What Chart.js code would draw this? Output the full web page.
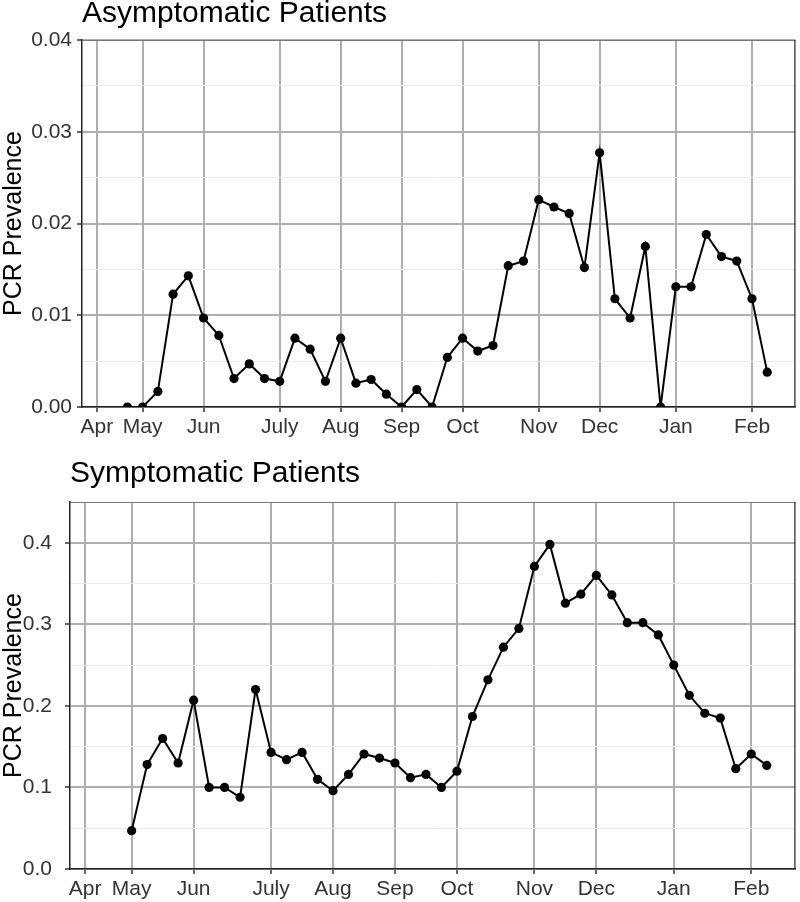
<!DOCTYPE html>
<html>
<head>
<meta charset="utf-8">
<title>PCR Prevalence</title>
<script src="https://cdn.jsdelivr.net/npm/chart.js@4/dist/chart.umd.min.js"></script>
<style>
    html, body { margin: 0; padding: 0; background: #fff; }
    .panel { position: absolute; left: 0; width: 800px; }
    #asymPanel { top: 0; height: 450px; }
    #symPanel { top: 450px; height: 452px; }
</style>
</head>
<body>
<div class="panel" id="asymPanel"><canvas id="asymChart"></canvas></div>
<div class="panel" id="symPanel"><canvas id="symChart"></canvas></div>

<script>
// ===== Data =====
// x positions are week numbers, week 0 = first May tick
const monthTicks = [-3, 0, 4, 9, 13, 17, 21, 26, 30, 35, 40];
const monthLabels = ["Apr", "May", "Jun", "July", "Aug", "Sep", "Oct", "Nov", "Dec", "Jan", "Feb"];

const asymWeeks = [-1, 0, 1, 2, 3, 4, 5, 6, 7, 8, 9, 10, 11, 12, 13, 14, 15, 16, 17, 18, 19, 20,
    21, 22, 23, 24, 25, 26, 27, 28, 29, 30, 31, 32, 33, 34, 35, 36, 37, 38, 39, 40, 41];
const asymValues = [0, 0, 0.0017, 0.0123, 0.0143, 0.0097, 0.0078, 0.0031, 0.0047, 0.0031, 0.0028,
    0.0075, 0.0063, 0.0028, 0.0075, 0.0026, 0.0030, 0.0014, 0, 0.0019, 0, 0.0054,
    0.0075, 0.0061, 0.0067, 0.0154, 0.0159, 0.0226, 0.0218, 0.0211, 0.0152, 0.0277,
    0.0118, 0.0097, 0.0175, 0, 0.0131, 0.0131, 0.0188, 0.0164, 0.0159, 0.0118, 0.0038];
const asymYTicks = [0, 0.01, 0.02, 0.03, 0.04];

const symWeeks = [0, 1, 2, 3, 4, 5, 6, 7, 8, 9, 10, 11, 12, 13, 14, 15, 16, 17, 18, 19, 20,
    21, 22, 23, 24, 25, 26, 27, 28, 29, 30, 31, 32, 33, 34, 35, 36, 37, 38, 39, 40, 41];
const symValues = [0.047, 0.128, 0.160, 0.130, 0.207, 0.100, 0.100, 0.088, 0.220, 0.143, 0.134,
    0.143, 0.110, 0.096, 0.116, 0.141, 0.136, 0.130, 0.112, 0.116, 0.100, 0.120,
    0.187, 0.232, 0.272, 0.295, 0.371, 0.398, 0.326, 0.337, 0.360, 0.336, 0.302,
    0.302, 0.287, 0.250, 0.213, 0.191, 0.185, 0.123, 0.141, 0.127];
const symYTicks = [0, 0.1, 0.2, 0.3, 0.4];

const FONT = "'Liberation Sans', Arial, sans-serif";
const MAJOR_GRID = "#afafaf";
const MINOR_GRID = "#ebebeb";

// draws the top and right sides of the panel box
const panelBorder = {
    id: "panelBorder",
    afterDraw(chart) {
        const { ctx, chartArea: a } = chart;
        ctx.save();
        ctx.lineWidth = 1.2;
        ctx.strokeStyle = "#777";
        ctx.beginPath();
        ctx.moveTo(a.left, a.top + 0.5);
        ctx.lineTo(a.right, a.top + 0.5);
        ctx.stroke();
        ctx.strokeStyle = "#222";
        ctx.beginPath();
        ctx.moveTo(a.right - 0.5, a.top);
        ctx.lineTo(a.right - 0.5, a.bottom);
        ctx.stroke();
        ctx.restore();
    }
};

function makePanel(canvasId, cfg) {
    // major ticks plus a minor one halfway between each pair
    const step = cfg.yTicks[1] - cfg.yTicks[0];
    const yAll = [];
    cfg.yTicks.forEach(v => { yAll.push({ value: v, major: true }); yAll.push({ value: v + step / 2, major: false }); });
    const yKept = yAll.filter(t => t.value <= cfg.yMax + 1e-9);
    const isMajor = c => yKept[c.index] && yKept[c.index].major;

    return new Chart(document.getElementById(canvasId), {
        type: "line",
        data: {
            datasets: [{
                data: cfg.weeks.map((w, i) => ({ x: w, y: cfg.values[i] })),
                borderColor: "#000",
                backgroundColor: "#000",
                borderWidth: 2,
                pointRadius: 4.6,
                pointBorderWidth: 0,
                tension: 0
            }]
        },
        options: {
            responsive: true,
            maintainAspectRatio: false,
            animation: false,
            layout: { padding: { left: 0, right: 3, top: cfg.topPad, bottom: 0 } },
            plugins: {
                legend: { display: false },
                tooltip: { enabled: false },
                title: {
                    display: true,
                    text: cfg.title,
                    align: "start",
                    fullSize: false,
                    color: "#000",
                    font: { family: FONT, size: 30, weight: "normal", lineHeight: 0.85 },
                    padding: { top: 0, bottom: cfg.titleGap }
                }
            },
            scales: {
                x: {
                    type: "linear",
                    min: -3.98,
                    max: 42.85,
                    afterBuildTicks: s => { s.ticks = monthTicks.map(v => ({ value: v })); },
                    afterFit: s => { s.height = cfg.xAxisHeight; },
                    ticks: {
                        color: "#333",
                        padding: 3,
                        maxRotation: 0,
                        autoSkip: false,
                        font: { family: FONT, size: 21 },
                        callback: v => monthLabels[monthTicks.indexOf(v)]
                    },
                    grid: {
                        color: MAJOR_GRID,
                        lineWidth: 2,
                        tickLength: 5,
                        tickColor: "#333",
                        tickWidth: 1.5
                    },
                    border: { display: true, color: "#222", width: 1.5 }
                },
                y: {
                    type: "linear",
                    min: 0,
                    max: cfg.yMax,
                    afterBuildTicks: s => { s.ticks = yKept.map(t => ({ value: t.value })); },
                    afterFit: s => { s.width = cfg.yAxisWidth; },
                    ticks: {
                        color: "#333",
                        padding: cfg.yLabelPad,
                        autoSkip: false,
                        font: { family: FONT, size: 21 },
                        callback: (v, i) => yKept[i].major ? v.toFixed(cfg.decimals) : ""
                    },
                    grid: {
                        color: c => isMajor(c) ? MAJOR_GRID : MINOR_GRID,
                        lineWidth: c => isMajor(c) ? 2 : 1,
                        tickLength: 5,
                        tickColor: c => isMajor(c) ? "#333" : "rgba(0,0,0,0)",
                        tickWidth: 1.5
                    },
                    border: { display: true, color: "#222", width: 1.5 },
                    title: {
                        display: true,
                        text: "PCR Prevalence",
                        color: "#000",
                        font: { family: FONT, size: 25, lineHeight: 1.0 },
                        padding: { top: 2, bottom: 0 }
                    }
                }
            }
        },
        plugins: [panelBorder]
    });
}

// ===== Asymptomatic =====
makePanel("asymChart", {
    title: "Asymptomatic Patients",
    weeks: asymWeeks,
    values: asymValues,
    yTicks: asymYTicks,
    yMax: 0.04,
    decimals: 2,
    topPad: 1,
    titleGap: 13.5,
    xAxisHeight: 43,
    yAxisWidth: 82,
    yLabelPad: 5
});

// ===== Symptomatic =====
makePanel("symChart", {
    title: "Symptomatic Patients",
    weeks: symWeeks,
    values: symValues,
    yTicks: symYTicks,
    yMax: 0.45,
    decimals: 1,
    topPad: 11,
    titleGap: 15.5,
    xAxisHeight: 33,
    yAxisWidth: 70,
    yLabelPad: 13
});
</script>
</body>
</html>
